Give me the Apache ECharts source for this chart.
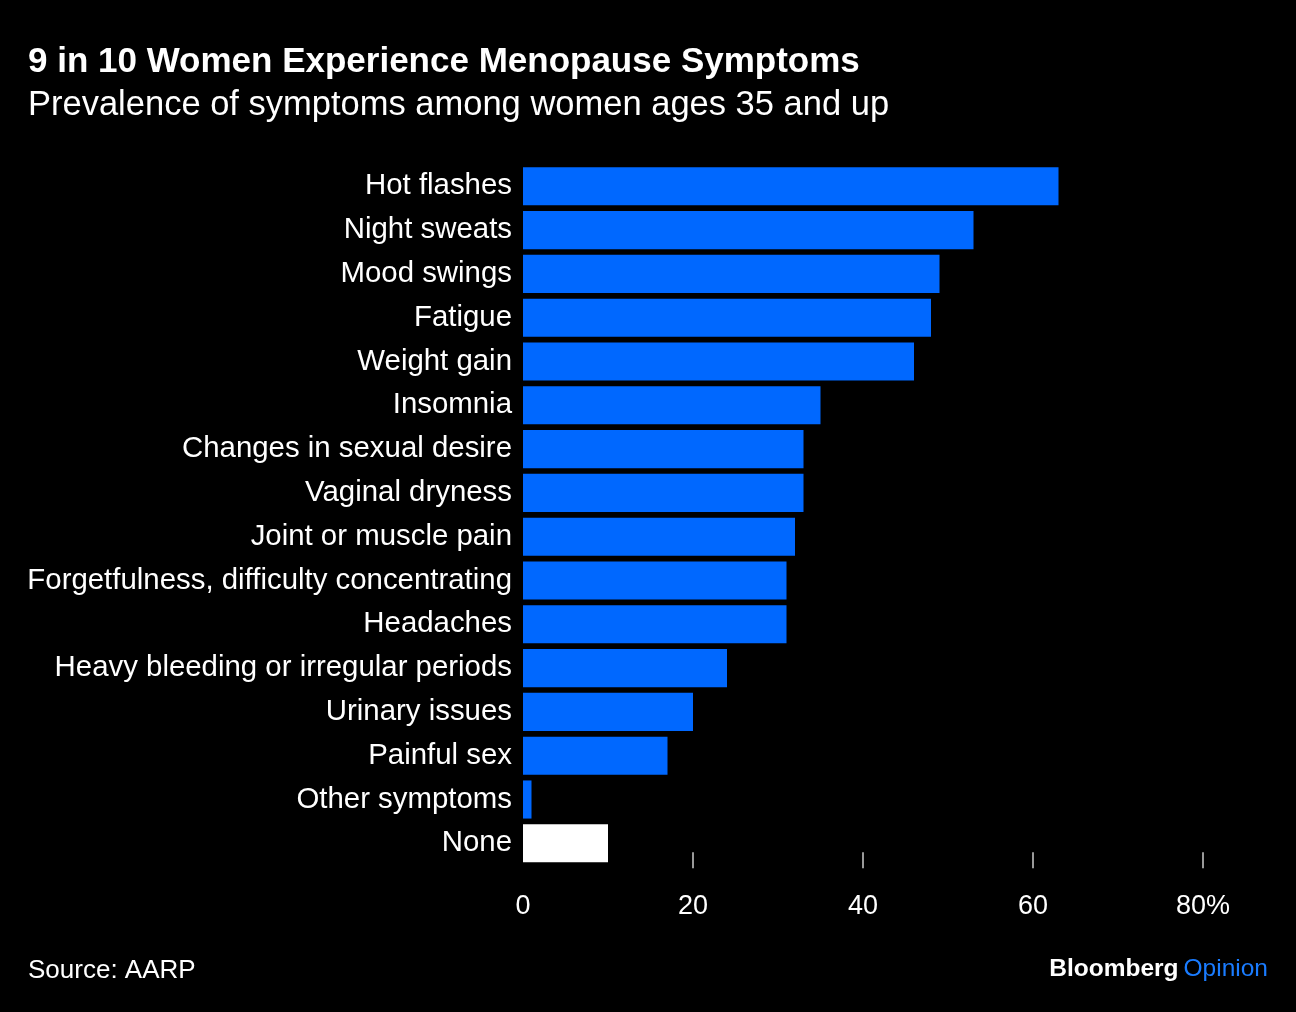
<!DOCTYPE html>
<html>
<head>
<meta charset="utf-8">
<style>
  html, body { margin: 0; padding: 0; background: #000; }
  #chart { width: 1296px; height: 1012px; }
</style>
<script src="https://cdn.jsdelivr.net/npm/echarts@6/dist/echarts.min.js"></script>
</head>
<body>
<div id="chart"></div>
<script>
const categories = [
  "Hot flashes", "Night sweats", "Mood swings", "Fatigue", "Weight gain",
  "Insomnia", "Changes in sexual desire", "Vaginal dryness", "Joint or muscle pain",
  "Forgetfulness, difficulty concentrating", "Headaches",
  "Heavy bleeding or irregular periods", "Urinary issues", "Painful sex",
  "Other symptoms", "None"
];
const values = [63, 53, 49, 48, 46, 35, 33, 33, 32, 31, 31, 24, 20, 17, 1, 10];
const tickValues = [20, 40, 60, 80];
const labelValues = [0, 20, 40, 60, 80];

const FONT = '"Liberation Sans", Arial, Helvetica, sans-serif';
const chart = echarts.init(document.getElementById('chart'));
chart.setOption({
  backgroundColor: '#000',
  animation: false,
  title: [
    { text: '9 in 10 Women Experience Menopause Symptoms', left: 28, top: 45, padding: 0,
      textStyle: { color: '#fff', fontFamily: FONT, fontWeight: 'bold', fontSize: 35 } },
    { text: 'Prevalence of symptoms among women ages 35 and up', left: 28, top: 88, padding: 0,
      textStyle: { color: '#fff', fontFamily: FONT, fontWeight: 'normal', fontSize: 34.5 } },
    { text: 'Source: AARP', left: 28, top: 958, padding: 0,
      textStyle: { color: '#fff', fontFamily: FONT, fontWeight: 'normal', fontSize: 26 } },
    { text: '{a|Bloomberg} {b|Opinion}', right: 28, top: 957, padding: 0,
      textStyle: { rich: {
        a: { color: '#fff', fontFamily: FONT, fontWeight: 'bold', fontSize: 24.5 },
        b: { color: '#1a7cff', fontFamily: FONT, fontWeight: 'normal', fontSize: 24.5 }
      } } }
  ],
  grid: { left: 523, right: 93, top: 164.4, bottom: 146.8, containLabel: false },
  xAxis: {
    type: 'value', min: 0, max: 80, interval: 20,
    offset: 3,
    splitLine: { show: false },
    axisLine: { show: false },
    axisTick: { show: true, inside: true, length: 16, customValues: tickValues,
      lineStyle: { color: '#cccccc', width: 1.5 } },
    axisLabel: { color: '#fff', fontFamily: FONT, fontSize: 27, margin: 25,
      customValues: labelValues,
      formatter: v => v === 80 ? '80%' : String(v) }
  },
  yAxis: {
    type: 'category', data: categories, inverse: true,
    axisLine: { show: false }, axisTick: { show: false },
    axisLabel: { color: '#fff', fontFamily: FONT, fontSize: 29.4, margin: 11 }
  },
  series: [{
    type: 'bar', data: values, barCategoryGap: '13%',
    itemStyle: { color: p => p.name === 'None' ? '#ffffff' : '#0068ff' }
  }]
});
</script>
</body>
</html>
